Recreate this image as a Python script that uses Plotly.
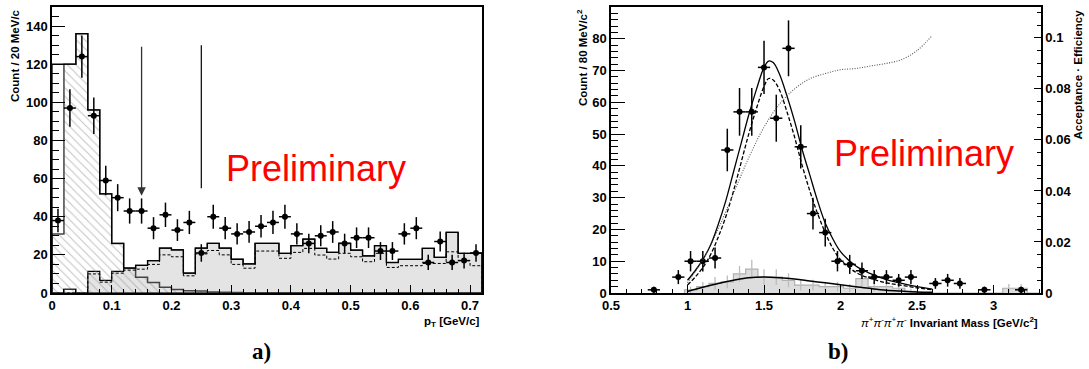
import plotly.graph_objects as go
import numpy as np

# ---------------- panel a) : pT distribution ----------------
pt_edges = [round(0.02 * i, 2) for i in range(37)]
pt_centers = [round(0.01 + 0.02 * i, 3) for i in range(36)]
pt_counts = [38, 97, 124, 93, 59, 50, 43, 43, 34, 41, 33, 37, 21, 40, 34, 31, 32, 35,
             37, 40, 31, 26, 30, 32, 26, 29, 29, 22, 22, 31, 34, 16, 27, 16, 17, 21]
pt_errors = [6.2, 9.8, 11.1, 9.6, 7.7, 7.1, 6.6, 6.6, 5.8, 6.4, 5.7, 6.1, 4.6, 6.3, 5.8, 5.6, 5.7, 5.9,
             6.1, 6.3, 5.6, 5.1, 5.5, 5.7, 5.1, 5.4, 5.4, 4.7, 4.7, 5.6, 5.8, 4.0, 5.2, 4.0, 4.1, 4.6]
# MC sum (solid black outline)
pt_sum_mc = [120, 120, 136, 96, 52, 26, 13, 14.5, 17, 23.5, 22.6, 10.4, 23.5, 26, 23.5, 17.7, 15.3, 26,
             26, 20.8, 24.8, 28.3, 23.4, 21.3, 26, 22.5, 19.5, 24.8, 16, 17.6, 17.6, 23.4, 18.7, 31.8, 20.8, 20.8]
# incoherent (grey filled)
pt_incoh = [0, 0, 0, 11.3, 6.6, 11.3, 13, 14.5, 17, 23.5, 22.6, 10.4, 23.5, 26, 23.5, 17.7, 15.3, 26,
            26, 20.8, 24.8, 28.3, 23.4, 21.3, 26, 22.5, 19.5, 24.8, 16, 17.6, 17.6, 23.4, 18.7, 31.8, 20.8, 20.8]
# dashed variant
pt_dashed = [0, 0, 0, 10, 5.7, 10.4, 12, 12.5, 15, 20, 19, 9, 20.5, 22.3, 20, 15, 13, 22,
             22, 18.2, 21.3, 23.4, 19.9, 17.8, 20.8, 19, 16.4, 20.8, 13.4, 14.3, 14.3, 15.5, 15.5, 21.6, 17, 14.3]
# coherent (hatched)
pt_coh = [31, 120, 136, 96, 52, 26, 13, 8.3, 5.5, 3, 1.9, 1.2, 1, 0.5, 0.4, 0.3, 0, 0,
          0, 0, 0, 0, 0, 0, 0, 0, 0, 0, 0, 0, 0, 0, 0, 0, 0, 0]
# small background
pt_small = [0, 2, 0, 0, 0, 0, 0, 0, 0, 0, 0, 0, 0, 0, 0, 0, 0, 0,
            0, 0, 0, 0, 0, 0, 0, 0, 0, 0, 0, 0, 0, 0, 0, 0, 0, 0]
cut_arrow_pt = 0.15
cut_line_pt = 0.25
cut_top, cut_bottom = 130, 55

# ---------------- panel b) : invariant mass ----------------
m_centers = [0.78, 0.94, 1.02, 1.10, 1.18, 1.26, 1.34, 1.42, 1.50, 1.58, 1.66, 1.74, 1.82,
             1.90, 1.98, 2.06, 2.14, 2.22, 2.30, 2.38, 2.46, 2.62, 2.70, 2.78, 2.94, 3.18]
m_counts = [1, 5, 10, 10, 11, 45, 57, 57, 71, 55, 77, 46, 25,
            19, 10, 9, 7, 5, 5, 4, 5, 3, 4, 3, 1, 1]
m_errors = [1, 2.2, 3.2, 3.2, 3.3, 6.7, 7.5, 7.5, 8.4, 7.4, 8.8, 6.8, 5,
            4.4, 3.2, 3, 2.6, 2.2, 2.2, 2, 2.2, 1.7, 2, 1.7, 1, 1]
m_edges = [round(0.98 + 0.08 * i, 2) for i in range(30)]
m_bkg_hist = [1, 2, 3, 3.5, 6, 7.5, 5, 5, 4, 2.5, 2.5, 2, 2, 1.5, 4.5, 2, 2, 1.5, 0.5,
              0, 0, 0, 0, 0, 0, 0, 1.5, 1.5, 0]
m_bkg_err = [1, 1.5, 2, 2, 2.5, 3, 2.5, 2.5, 2.2, 1.7, 1.7, 1.5, 1.5, 1.3, 2.3, 1.5, 1.5, 1.3, 0.8,
             0, 0, 0, 0, 0, 0, 0, 1.3, 1.3, 0]

fit_m = [1.0, 1.05, 1.1, 1.15, 1.2, 1.25, 1.3, 1.35, 1.4, 1.45, 1.5, 1.53, 1.56, 1.6, 1.65, 1.7,
         1.75, 1.8, 1.85, 1.9, 1.95, 2.0, 2.1, 2.2, 2.3, 2.4, 2.5, 2.6]
fit_total = [4, 7, 10.5, 15, 21.5, 29, 38, 47, 56, 64, 71, 73, 72.5, 69, 62, 54,
             45, 37, 29, 22, 17, 13, 8.5, 6, 4.2, 3, 2, 1.2]
fit_signal = [2.5, 5, 8, 12, 17.5, 24, 32, 41, 50, 58, 65, 67.5, 67, 64, 57, 49,
              40, 32, 25, 19, 14, 10.5, 6.5, 4.5, 3.2, 2.4, 1.6, 1]
bkg_m = [1.0, 1.1, 1.2, 1.3, 1.4, 1.5, 1.6, 1.7, 1.8, 1.9, 2.0, 2.1, 2.2, 2.3, 2.4, 2.5, 2.6]
bkg_curve = [0.5, 1.8, 3.0, 4.0, 4.8, 5.0, 4.8, 4.4, 3.8, 3.2, 2.6, 2.0, 1.4, 0.9, 0.6, 0.35, 0.2]
eff_m = [1.0, 1.1, 1.2, 1.3, 1.4, 1.5, 1.6, 1.7, 1.8, 1.9, 2.0, 2.1, 2.2, 2.3, 2.4, 2.5, 2.6]
eff_vals = [0.004, 0.013, 0.025, 0.039, 0.053, 0.065, 0.074, 0.080, 0.084, 0.086, 0.0875,
            0.088, 0.089, 0.090, 0.0915, 0.095, 0.101]


def step(edges, vals):
    xs, ys = [edges[0]], [0]
    for i, v in enumerate(vals):
        xs += [edges[i], edges[i + 1]]
        ys += [v, v]
    xs.append(edges[-1])
    ys.append(0)
    return xs, ys


fig = go.Figure()

# ---- panel a traces
x, y = step(pt_edges, pt_incoh)
fig.add_trace(go.Scatter(x=x, y=y, mode="lines", fill="tozeroy", fillcolor="#e4e4e4",
                         line=dict(color="black", width=1.2), xaxis="x", yaxis="y", hoverinfo="skip"))
x, y = step(pt_edges, pt_coh)
fig.add_trace(go.Scatter(x=x, y=y, mode="lines", fill="tozeroy", fillcolor="rgba(0,0,0,0)",
                         fillpattern=dict(shape="\\", fgcolor="#8a8a8a", bgcolor="rgba(0,0,0,0)",
                                          size=6, solidity=0.18),
                         line=dict(color="#444444", width=1.5), xaxis="x", yaxis="y", hoverinfo="skip"))
x, y = step(pt_edges, pt_dashed)
fig.add_trace(go.Scatter(x=x, y=y, mode="lines", line=dict(color="black", width=1, dash="3px,2px"),
                         xaxis="x", yaxis="y", hoverinfo="skip"))
x, y = step(pt_edges, pt_sum_mc)
fig.add_trace(go.Scatter(x=x, y=y, mode="lines", line=dict(color="black", width=1.3),
                         xaxis="x", yaxis="y", hoverinfo="skip"))
x, y = step(pt_edges, pt_small)
fig.add_trace(go.Scatter(x=x, y=y, mode="lines", line=dict(color="#333333", width=1.5),
                         xaxis="x", yaxis="y", hoverinfo="skip"))
fig.add_trace(go.Scatter(x=pt_centers, y=pt_counts, mode="markers",
                         marker=dict(color="black", size=6),
                         error_y=dict(type="data", array=pt_errors, color="black", thickness=1.5, width=0),
                         error_x=dict(type="constant", value=0.01, color="black", thickness=1.5, width=0),
                         xaxis="x", yaxis="y", hoverinfo="skip"))
# cut markers
fig.add_trace(go.Scatter(x=[cut_line_pt, cut_line_pt], y=[cut_top, cut_bottom], mode="lines",
                         line=dict(color="black", width=1.2), xaxis="x", yaxis="y", hoverinfo="skip"))
fig.add_annotation(x=cut_arrow_pt, y=cut_bottom - 4, ax=cut_arrow_pt, ay=cut_top, xref="x", yref="y",
                   axref="x", ayref="y", showarrow=True, arrowhead=2, arrowsize=1.3, arrowwidth=1.3,
                   arrowcolor="#333333", text="")

# ---- panel b traces
x, y = step(m_edges, m_bkg_hist)
fig.add_trace(go.Scatter(x=x, y=y, mode="lines", fill="tozeroy", fillcolor="#dddddd",
                         line=dict(color="#b0b0b0", width=1.2), xaxis="x2", yaxis="y2", hoverinfo="skip"))
mc = [round((m_edges[i] + m_edges[i + 1]) / 2, 3) for i in range(len(m_bkg_hist))]
sel = [i for i, v in enumerate(m_bkg_hist) if v > 0]
fig.add_trace(go.Scatter(x=[mc[i] for i in sel], y=[m_bkg_hist[i] for i in sel], mode="markers",
                         marker=dict(size=1, color="rgba(0,0,0,0)"),
                         error_y=dict(type="data", array=[m_bkg_err[i] for i in sel], color="#bdbdbd",
                                      thickness=1.3, width=0),
                         xaxis="x2", yaxis="y2", hoverinfo="skip"))
fig.add_trace(go.Scatter(x=bkg_m, y=bkg_curve, mode="lines", line=dict(color="black", width=1.5, shape="spline"),
                         xaxis="x2", yaxis="y2", hoverinfo="skip"))
fig.add_trace(go.Scatter(x=eff_m, y=eff_vals, mode="lines",
                         line=dict(color="#555555", width=1.1, dash="1px,1.5px", shape="spline"),
                         xaxis="x2", yaxis="y3", hoverinfo="skip"))
fig.add_trace(go.Scatter(x=fit_m, y=fit_signal, mode="lines",
                         line=dict(color="black", width=1.3, dash="4px,2px", shape="spline"),
                         xaxis="x2", yaxis="y2", hoverinfo="skip"))
fig.add_trace(go.Scatter(x=fit_m, y=fit_total, mode="lines", line=dict(color="black", width=1.3, shape="spline"),
                         xaxis="x2", yaxis="y2", hoverinfo="skip"))
fig.add_trace(go.Scatter(x=m_centers, y=m_counts, mode="markers",
                         marker=dict(color="black", size=6),
                         error_y=dict(type="data", array=m_errors, color="black", thickness=1.5, width=0),
                         error_x=dict(type="constant", value=0.04, color="black", thickness=1.5, width=0),
                         xaxis="x2", yaxis="y2", hoverinfo="skip"))

W, H = 1089, 369
ML, MR, MT, MB = 52, 48, 6.5, 76
PW, PH = W - ML - MR, H - MT - MB
tickfont = dict(family="Liberation Sans", size=13, color="black", weight="bold")


def axis_common(**kw):
    d = dict(showgrid=False, zeroline=False, showline=True, linecolor="black", linewidth=1.5,
             mirror=True, ticks="inside", tickcolor="black", tickwidth=1, tickfont=tickfont,
             automargin=False)
    d.update(kw)
    return d


fig.update_layout(
    width=W, height=H, margin=dict(l=ML, r=MR, t=MT, b=MB, pad=0, autoexpand=False),
    paper_bgcolor="white", plot_bgcolor="white", showlegend=False,
    xaxis=axis_common(domain=[0, 430 / PW], range=[0, 0.72], dtick=0.1, tick0=0, ticklen=8,
                      minor=dict(dtick=0.02, tick0=0, ticklen=4, ticks="inside", tickcolor="black"),
                      anchor="y"),
    yaxis=axis_common(domain=[0, 1], range=[0, 150], dtick=20, tick0=0, ticklen=13,
                      minor=dict(dtick=5, tick0=0, ticklen=7, ticks="inside", tickcolor="black"),
                      anchor="x"),
    xaxis2=axis_common(domain=[(611 - ML) / PW, 1], range=[0.5, 3.31], dtick=0.5, tick0=0.5, ticklen=8,
                       minor=dict(dtick=0.1, tick0=0.5, ticklen=4, ticks="inside", tickcolor="black"),
                       anchor="y2"),
    yaxis2=axis_common(domain=[0, 1], range=[0, 90], dtick=10, tick0=0, ticklen=14,
                       minor=dict(dtick=2, tick0=0, ticklen=7, ticks="inside", tickcolor="black"),
                       anchor="x2", mirror=False),
    yaxis3=axis_common(domain=[0, 1], range=[0, 0.1121], dtick=0.02, tick0=0, ticklen=7,
                       minor=dict(dtick=0.005, tick0=0, ticklen=4, ticks="inside", tickcolor="black"),
                       anchor="x2", overlaying="y2", side="right", mirror=False),
)


def px(xp, yp):
    return (xp - ML) / PW, 1 - (yp - MT) / PH


lab = dict(family="Liberation Sans", size=11.5, color="black")
annots = [
    dict(text="<b>Count / 20 MeV/c</b>", pos=(15, 7), textangle=-90, xanchor="center", yanchor="top", font=lab),
    dict(text="<b>Count / 80 MeV/c<sup>2</sup></b>", pos=(582, 7), textangle=-90, xanchor="center", yanchor="top", font=lab),
    dict(text="<b>Acceptance · Efficiency</b>", pos=(1078, 7), textangle=-90, xanchor="center", yanchor="top", font=lab),
    dict(text="<b>p<sub>T</sub> [GeV/c]</b>", pos=(482, 322), textangle=0, xanchor="right", yanchor="middle", font=lab),
    dict(text="<i>π</i><sup>+</sup><i>π</i><sup>-</sup><i>π</i><sup>+</sup><i>π</i><sup>-</sup><b> Invariant Mass [GeV/c<sup>2</sup>]</b>",
         pos=(1040, 322), textangle=0, xanchor="right", yanchor="middle", font=lab),
    dict(text="Preliminary", pos=(224, 168), textangle=0, xanchor="left", yanchor="middle",
         font=dict(family="Liberation Sans", size=36, color="#ff0000")),
    dict(text="Preliminary", pos=(832, 153), textangle=0, xanchor="left", yanchor="middle",
         font=dict(family="Liberation Sans", size=36, color="#ff0000")),
    dict(text="<b>a)</b>", pos=(261, 352), textangle=0, xanchor="center", yanchor="middle",
         font=dict(family="Liberation Serif", size=23, color="black")),
    dict(text="<b>b)</b>", pos=(838, 352), textangle=0, xanchor="center", yanchor="middle",
         font=dict(family="Liberation Serif", size=23, color="black")),
]
for a in annots:
    xp, yp = px(*a["pos"])
    fig.add_annotation(x=xp, y=yp, xref="paper", yref="paper", text=a["text"], showarrow=False,
                       textangle=a["textangle"], xanchor=a["xanchor"], yanchor=a["yanchor"], font=a["font"])

fig.write_html("out.html", config={"displayModeBar": False},
               post_script="document.body.style.margin='0px';document.body.style.padding='0px';")
